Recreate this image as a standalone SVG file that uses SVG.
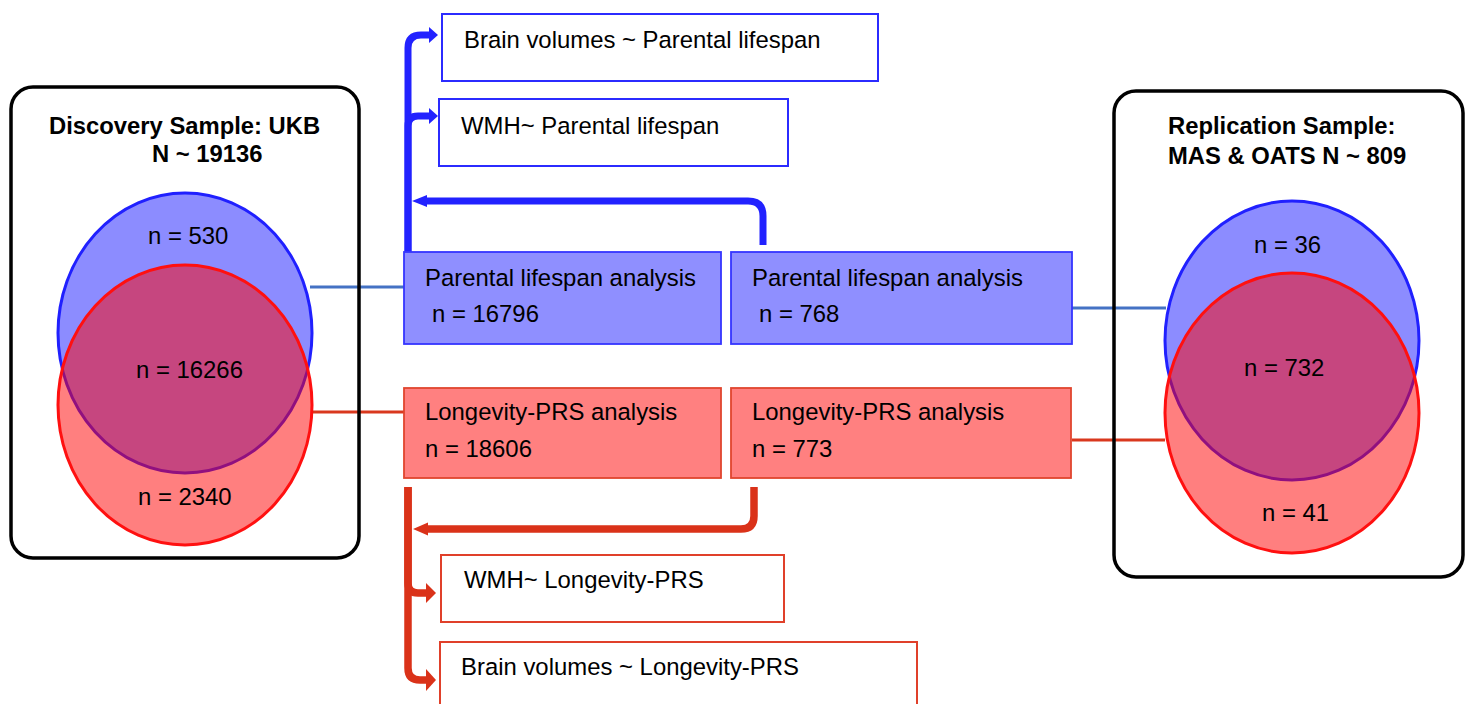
<svg xmlns="http://www.w3.org/2000/svg" width="1465" height="704" viewBox="0 0 1465 704">
<style>
text{font-family:"Liberation Sans",Arial,sans-serif;font-size:23.9px;fill:#000}
.b{font-weight:bold;font-size:23.8px}
.frame{fill:none;stroke:#000;stroke-width:3.5}
.vb{fill:rgba(0,0,255,0.45);stroke:#2020FF;stroke-width:3}
.vr{fill:rgba(255,0,0,0.5);stroke:#FF1010;stroke-width:3}
.pb{fill:#8F8FFF;stroke:#3535FF;stroke-width:1.8}
.pr{fill:#FF8080;stroke:#E0452E;stroke-width:1.8}
.ob{fill:#fff;stroke:#2B2BFF;stroke-width:2}
.or{fill:#fff;stroke:#E0402A;stroke-width:2}
.cb{fill:none;stroke:#2222FF;stroke-width:7}
.cr{fill:none;stroke:#DA3219;stroke-width:7.5}
.ab{fill:#2222FF}
.ar{fill:#DA3219}
.lb{stroke:#4472C4;stroke-width:3}
.lr{stroke:#D9381E;stroke-width:3}
</style>
<g id="connectors">
<line class="lb" x1="310" y1="287" x2="405" y2="287"/>
<line class="lr" x1="312" y1="412" x2="405" y2="412"/>
<line class="lb" x1="1072" y1="308" x2="1166" y2="308"/>
<line class="lr" x1="1072" y1="440" x2="1165" y2="440"/>
<path class="cb" d="M408,255 V48 Q408,35 421,35 H431"/>
<polygon class="ab" points="429,27 438,35 429,43"/>
<path class="cb" d="M408,255 V126 Q408,116 418,116 H431"/>
<polygon class="ab" points="429,108 438,116 429,124"/>
<path class="cb" d="M763,245 V216 Q763,201 748,201 H424"/>
<polygon class="ab" points="412,201 427,195 427,207"/>
<path class="cr" d="M408,487 V583 Q408,593 418,593 H428"/>
<polygon class="ar" points="426,583 436,593 426,603"/>
<path class="cr" d="M408,487 V668 Q408,680 420,680 H428"/>
<polygon class="ar" points="426,669 436,680 426,691"/>
<path class="cr" d="M754,487 V516 Q754,529 741,529 H424"/>
<polygon class="ar" points="413,529 428,522.5 428,535.5"/>
</g>
<g id="discovery">
<rect class="frame" x="11" y="87" width="348" height="471" rx="22"/>
<text class="b" x="49" y="134">Discovery Sample: UKB</text>
<text class="b" x="152" y="162">N ~ 19136</text>
<ellipse class="vb" cx="185" cy="333" rx="127" ry="140"/>
<ellipse class="vr" cx="185" cy="405" rx="127" ry="140"/>
<text x="148" y="244">n = 530</text>
<text x="136" y="378">n = 16266</text>
<text x="138" y="505">n = 2340</text>
</g>
<g id="replication">
<rect class="frame" x="1114" y="91" width="349" height="486" rx="22"/>
<text class="b" x="1168" y="134">Replication Sample:</text>
<text class="b" x="1168" y="164">MAS &amp; OATS N ~ 809</text>
<ellipse class="vb" cx="1292" cy="340.5" rx="127" ry="139.5"/>
<ellipse class="vr" cx="1292" cy="413" rx="127" ry="140"/>
<text x="1254" y="253">n = 36</text>
<text x="1244" y="376">n = 732</text>
<text x="1262" y="521">n = 41</text>
</g>
<g id="pl-discovery">
<rect class="pb" x="404" y="252" width="317" height="92"/>
<text x="425" y="286">Parental lifespan analysis</text>
<text x="432" y="322">n = 16796</text>
</g>
<g id="pl-replication">
<rect class="pb" x="731" y="252" width="341" height="92"/>
<text x="752" y="286">Parental lifespan analysis</text>
<text x="759" y="322">n = 768</text>
</g>
<g id="prs-discovery">
<rect class="pr" x="404" y="388" width="317" height="90"/>
<text x="425" y="420">Longevity-PRS analysis</text>
<text x="425" y="457">n = 18606</text>
</g>
<g id="prs-replication">
<rect class="pr" x="731" y="388" width="340" height="90"/>
<text x="752" y="420">Longevity-PRS analysis</text>
<text x="752" y="457">n = 773</text>
</g>
<g id="bv-pl">
<rect class="ob" x="442" y="14" width="436" height="67"/>
<text x="464" y="48">Brain volumes ~ Parental lifespan</text>
</g>
<g id="wmh-pl">
<rect class="ob" x="439" y="99" width="349" height="67"/>
<text x="461" y="134">WMH~ Parental lifespan</text>
</g>
<g id="wmh-prs">
<rect class="or" x="441" y="555" width="343" height="67"/>
<text x="464" y="588">WMH~ Longevity-PRS</text>
</g>
<g id="bv-prs">
<rect class="or" x="440" y="642" width="477" height="70"/>
<text x="461" y="675">Brain volumes ~ Longevity-PRS</text>
</g>
</svg>
